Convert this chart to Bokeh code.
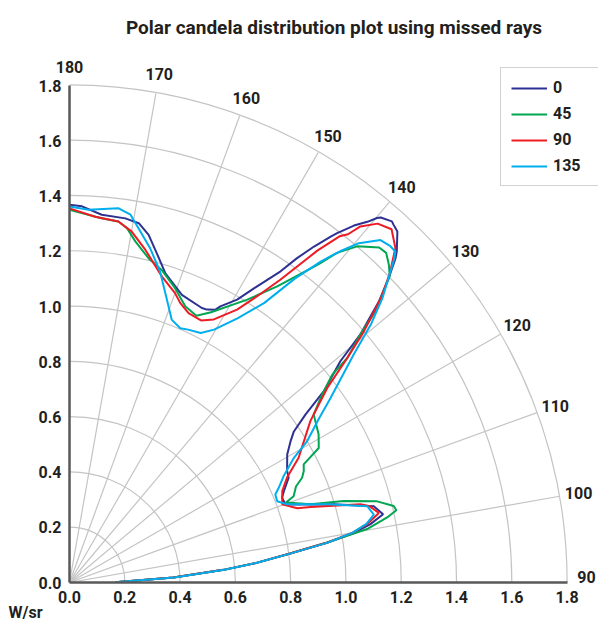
import numpy as np
from bokeh.plotting import figure
from bokeh.models import Range1d, FixedTicker, PrintfTickFormatter, Legend, LegendItem
from bokeh.core.properties import value
from bokeh.embed import file_html
from bokeh.resources import INLINE

FONT = "Roboto"
INK = "#231f20"

# ---------------- data ----------------
series_names = ["0", "45", "90", "135"]
series_colors = ["#2e3192", "#00a651", "#ed1c24", "#00aeef"]

# polar angle in chart degrees (90 = horizontal, 180 = vertical) and radius in W/sr
theta_0 = [90.3, 92.7, 94.7, 96.0, 97.5, 98.8, 99.9, 101.0, 102.3, 104.1,
           106.5, 108.7, 109.9, 111.8, 113.1, 115.6, 117.2, 120.5, 122.6, 124.0,
           125.5, 127.0, 129.3, 130.5, 132.3, 133.7, 134.9, 135.4, 136.2, 137.0,
           137.9, 138.3, 139.6, 139.9, 140.5, 141.5, 142.6, 143.0, 144.0, 145.0,
           145.9, 147.7, 149.4, 151.4, 151.9, 153.3, 154.3, 158.7, 162.8, 165.2,
           167.2, 169.1, 171.3, 175.0, 178.1, 180.0]
r_0 = [0.165, 0.376, 0.559, 0.680, 0.805, 0.943, 1.044, 1.109, 1.161, 1.135,
       0.997, 0.882, 0.831, 0.828, 0.843, 0.879, 0.885, 0.914, 0.949, 0.979,
       1.049, 1.152, 1.266, 1.383, 1.513, 1.597, 1.665, 1.686, 1.712, 1.739,
       1.748, 1.753, 1.737, 1.727, 1.694, 1.653, 1.594, 1.570, 1.505, 1.435,
       1.362, 1.270, 1.191, 1.140, 1.121, 1.107, 1.104, 1.119, 1.173, 1.235,
       1.292, 1.326, 1.335, 1.338, 1.364, 1.369]

theta_45 = [90.3, 92.7, 94.7, 96.0, 97.5, 98.8, 100.2, 101.6, 102.5, 103.3,
            104.8, 106.6, 108.0, 110.3, 111.1, 113.0, 114.3, 115.5, 116.8, 118.4,
            120.8, 124.6, 126.7, 128.4, 129.0, 130.5, 131.6, 132.9, 133.8, 134.9,
            136.2, 137.3, 139.5, 141.0, 141.9, 142.3, 145.0, 147.9, 152.4, 154.6,
            157.3, 160.3, 163.6, 166.3, 169.1, 170.8, 172.3, 175.0, 180.0]
r_45 = [0.165, 0.376, 0.559, 0.680, 0.805, 0.940, 1.094, 1.173, 1.211, 1.205,
        1.151, 1.035, 0.917, 0.835, 0.869, 0.890, 0.923, 0.939, 0.949, 1.025,
        1.049, 1.073, 1.140, 1.213, 1.293, 1.383, 1.480, 1.551, 1.605, 1.631,
        1.655, 1.652, 1.602, 1.537, 1.471, 1.447, 1.310, 1.210, 1.105, 1.070,
        1.085, 1.133, 1.181, 1.209, 1.259, 1.301, 1.320, 1.325, 1.351]

theta_90 = [90.3, 92.7, 94.7, 96.0, 97.5, 98.8, 100.0, 101.2, 102.7, 104.3,
            105.1, 107.4, 108.1, 110.2, 113.3, 115.8, 118.6, 123.9, 127.1, 129.0,
            130.5, 132.5, 134.0, 135.8, 137.7, 139.4, 140.8, 141.4, 142.1, 143.3,
            145.2, 146.8, 148.5, 151.3, 153.4, 156.2, 158.4, 160.0, 163.2, 167.2,
            170.0, 172.3, 176.0, 180.0]
r_90 = [0.165, 0.376, 0.559, 0.680, 0.805, 0.940, 1.040, 1.100, 1.147, 1.120,
        1.090, 0.914, 0.867, 0.820, 0.838, 0.874, 0.944, 1.050, 1.169, 1.293,
        1.400, 1.530, 1.610, 1.691, 1.731, 1.713, 1.665, 1.615, 1.590, 1.500,
        1.336, 1.240, 1.160, 1.087, 1.062, 1.067, 1.089, 1.116, 1.158, 1.237,
        1.292, 1.320, 1.329, 1.356]

theta_135 = [90.3, 92.7, 94.7, 96.0, 97.5, 98.8, 100.0, 101.2, 102.6, 104.4,
             106.9, 109.8, 111.4, 113.2, 114.4, 116.5, 119.1, 120.8, 123.3, 125.3,
             128.8, 130.6, 132.3, 134.9, 135.5, 136.4, 137.8, 139.6, 140.8, 141.4,
             142.0, 143.5, 145.2, 147.6, 150.3, 152.3, 154.9, 156.5, 158.8, 161.2,
             163.8, 166.5, 169.0, 170.6, 172.6, 177.1, 180.0]
r_135 = [0.165, 0.380, 0.562, 0.682, 0.808, 0.945, 1.040, 1.095, 1.128, 1.112,
         0.974, 0.836, 0.807, 0.810, 0.831, 0.866, 0.929, 1.001, 1.078, 1.157,
         1.319, 1.435, 1.530, 1.657, 1.682, 1.683, 1.675, 1.615, 1.549, 1.512,
         1.476, 1.370, 1.233, 1.134, 1.055, 1.021, 1.012, 1.005, 1.022, 1.089,
         1.174, 1.247, 1.308, 1.351, 1.368, 1.353, 1.363]

radial_ticks = [0.0, 0.2, 0.4, 0.6, 0.8, 1.0, 1.2, 1.4, 1.6, 1.8]
angle_ticks = [90, 100, 110, 120, 130, 140, 150, 160, 170, 180]
angle_labels = ["90", "100", "110", "120", "130", "140", "150", "160", "170", "180"]
unit_label = "W/sr"

# ---------------- figure ----------------
S = 276.45  # px per W/sr (equal on both axes)
FRAME_W, FRAME_H = 529, 532
p = figure(width=598, height=621, output_backend="svg", toolbar_location=None,
           x_range=Range1d(0, FRAME_W / S), y_range=Range1d(0, FRAME_H / S),
           min_border_left=69, min_border_right=0, min_border_top=50, min_border_bottom=39)
p.outline_line_color = None
p.xgrid.visible = False
p.ygrid.visible = False
p.background_fill_color = "white"

p.title.text = "Polar candela distribution plot using missed rays"
p.title.align = "center"
p.title.text_font = FONT
p.title.text_font_size = "19px"
p.title.text_font_style = "bold"
p.title.text_color = INK
p.title.standoff = 26

GRID = "#c4c4c4"
rmax = radial_ticks[-1]
# circular grid
p.arc(x=0, y=0, radius=radial_ticks[1:], start_angle=0, end_angle=np.pi / 2,
      line_color=GRID, line_width=1.2)
# radial grid
phis = np.radians(np.array(angle_ticks) - 90)
p.segment(x0=0, y0=0, x1=rmax * np.cos(phis), y1=rmax * np.sin(phis),
          line_color=GRID, line_width=1.2)
# angle labels (overlay level so they are not clipped at the frame edge)
lab_r = 1.87
lab_dy = [6 if a == 90 else 0 for a in angle_ticks]
p.text(x=lab_r * np.cos(phis), y=lab_r * np.sin(phis), text=angle_labels,
       y_offset=[-d for d in lab_dy], level="overlay",
       text_align="center", text_baseline="middle", text_font=value(FONT),
       text_font_size="16px", text_font_style="bold", text_color=INK)

thetas = [theta_0, theta_45, theta_90, theta_135]
radii = [r_0, r_45, r_90, r_135]
items = []
for name, col, th, rr in zip(series_names, series_colors, thetas, radii):
    ph = np.radians(np.array(th) - 90)
    rr = np.array(rr)
    g = p.line(rr * np.cos(ph), rr * np.sin(ph), line_color=col, line_width=2)
    items.append(LegendItem(label=name, renderers=[g]))

legend = Legend(items=items, location=(431, 396), glyph_width=36, glyph_height=14,
                label_standoff=6, padding=10, spacing=7, margin=0, label_width=35,
                label_text_font=FONT, label_text_font_size="16px",
                label_text_font_style="bold", label_text_color=INK,
                border_line_color="#a6a6a6", border_line_width=1.5,
                background_fill_color="white", background_fill_alpha=1)
p.add_layout(legend)

for ax in (p.xaxis[0], p.yaxis[0]):
    ax.ticker = FixedTicker(ticks=radial_ticks)
    ax.formatter = PrintfTickFormatter(format="%.1f")
    ax.bounds = (0, rmax)
    ax.major_tick_line_color = None
    ax.minor_tick_line_color = None
    ax.major_tick_out = 0
    ax.major_tick_in = 0
    ax.axis_line_color = "#595959"
    ax.axis_line_width = 2.5
    ax.major_label_text_font = FONT
    ax.major_label_text_font_size = "16px"
    ax.major_label_text_font_style = "bold"
    ax.major_label_text_color = INK
    ax.major_label_standoff = 8

# unit label under the axis corner
p.text(x=[-61 / S], y=[-30 / S], text=[unit_label], level="overlay",
       text_align="left", text_baseline="middle", text_font=value(FONT),
       text_font_size="16px", text_font_style="bold", text_color=INK)

open("out.html", "w").write(file_html(p, INLINE))
